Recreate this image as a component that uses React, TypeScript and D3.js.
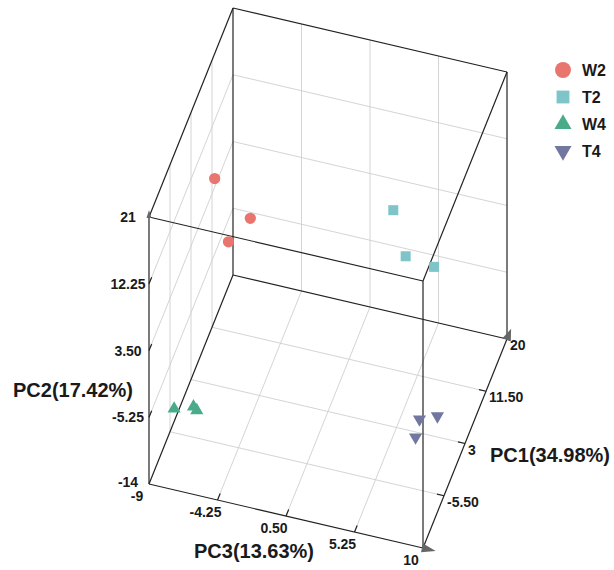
import React from "react";
import * as d3 from "d3";

// groups + colours
const groups = ["W2", "T2", "W4", "T4"];
const groupColors = ["#e8756e", "#7ec4c8", "#4aab8b", "#7277a0"];

// sample scores
const sampleGroup = ["W2", "W2", "W2", "T2", "T2", "T2", "W4", "W4", "W4", "T4", "T4", "T4"];
const pc1 = [5, 6, 3, 9, 7, 8, -5, -3, -4, -2, 0, -3];
const pc2 = [11.3, 6.3, 5.2, 9.1, 5.2, 3.8, -11.3, -12.2, -11.7, -7.8, -8.6, -9.4];
const pc3 = [-7.7, -5.4, -6.4, 4.0, 5.2, 7.0, -8.8, -7.8, -7.4, 7.7, 8.6, 7.6];

// axis ticks
const pc1Ticks = [-14, -5.5, 3, 11.5, 20];
const pc1Labels = ["", "-5.50", "3", "11.50", "20"];
const pc2Ticks = [-14, -5.25, 3.5, 12.25, 21];
const pc2Labels = ["-14", "-5.25", "3.50", "12.25", "21"];
const pc3Ticks = [-9, -4.25, 0.5, 5.25, 10];
const pc3Labels = ["-9", "-4.25", "0.50", "5.25", "10"];

const axisTitles = ["PC1(34.98%)", "PC2(17.42%)", "PC3(13.63%)"];

const font = "'Liberation Sans', Arial, sans-serif";

// projection of the box: origin at front-bottom-left corner
const origin = [149, 484];
const v1 = [84, -209]; // pc1 direction (front -> back)
const v2 = [0, -267]; // pc2 direction (up)
const v3 = [274, 64]; // pc3 direction (left -> right)

const s1 = d3.scaleLinear().domain([-14, 20]).range([0, 1]);
const s2 = d3.scaleLinear().domain([-14, 21]).range([0, 1]);
const s3 = d3.scaleLinear().domain([-9, 10]).range([0, 1]);

function proj(a: number, b: number, c: number): [number, number] {
  const f1 = s1(a), f2 = s2(b), f3 = s3(c);
  return [
    origin[0] + f1 * v1[0] + f2 * v2[0] + f3 * v3[0],
    origin[1] + f1 * v1[1] + f2 * v2[1] + f3 * v3[1],
  ];
}

function arrow(p: [number, number], d: number[], len: number, half: number) {
  const n = Math.hypot(d[0], d[1]);
  const ux = d[0] / n, uy = d[1] / n;
  const tip = [p[0] + ux * len, p[1] + uy * len];
  const bx = p[0] - ux * 1, by = p[1] - uy * 1;
  return `M${tip[0]},${tip[1]}L${bx - uy * half},${by + ux * half}L${bx + uy * half},${by - ux * half}Z`;
}

export default function App() {
  const [lo1, hi1] = s1.domain();
  const [lo2, hi2] = s2.domain();
  const [lo3, hi3] = s3.domain();

  // grid lines on the three back planes
  const grid: [number, number][][] = [];
  pc1Ticks.slice(1, -1).forEach(t => {
    grid.push([proj(t, lo2, lo3), proj(t, hi2, lo3)]); // left wall
    grid.push([proj(t, lo2, lo3), proj(t, lo2, hi3)]); // floor
  });
  pc2Ticks.slice(1, -1).forEach(t => {
    grid.push([proj(lo1, t, lo3), proj(hi1, t, lo3)]); // left wall
    grid.push([proj(hi1, t, lo3), proj(hi1, t, hi3)]); // back wall
  });
  pc3Ticks.slice(1, -1).forEach(t => {
    grid.push([proj(hi1, lo2, t), proj(hi1, hi2, t)]); // back wall
    grid.push([proj(lo1, lo2, t), proj(hi1, lo2, t)]); // floor
  });

  // 12 box edges
  const edges: [number, number][][] = [];
  const c1 = [lo1, hi1], c2 = [lo2, hi2], c3 = [lo3, hi3];
  c2.forEach(b => c3.forEach(c => edges.push([proj(lo1, b, c), proj(hi1, b, c)])));
  c1.forEach(a => c3.forEach(c => edges.push([proj(a, lo2, c), proj(a, hi2, c)])));
  c1.forEach(a => c2.forEach(b => edges.push([proj(a, b, lo3), proj(a, b, hi3)])));

  // short inward tick marks
  const ticks: [number, number][][] = [];
  pc1Ticks.slice(1, -1).forEach(t => {
    const p = proj(t, lo2, hi3);
    ticks.push([p, [p[0] - 7, p[1] - 1.6]]);
  });
  pc3Ticks.slice(1, -1).forEach(t => {
    const p = proj(lo1, lo2, t);
    ticks.push([p, [p[0] + 2.7, p[1] - 6.6]]);
  });
  pc2Ticks.slice(1, -1).forEach(t => {
    const p = proj(lo1, t, lo3);
    ticks.push([p, [p[0] + 2.7, p[1] - 6.6]]);
  });

  const symbolTypes = [d3.symbolCircle, d3.symbolSquare, d3.symbolTriangle, d3.symbolTriangle];
  const plotSizes = [100, 100, 75, 75];
  const legendSizes = [200, 165, 125, 125];
  const symbolPath = (gi: number, sizes: number[]) =>
    d3.symbol().type(symbolTypes[gi]).size(sizes[gi])() as string;
  const rot = (gi: number) => (gi === 3 ? 180 : 0);

  const line = (l: [number, number][]) => `M${l[0][0]},${l[0][1]}L${l[1][0]},${l[1][1]}`;

  const F = proj(hi1, lo2, hi3);
  const Hc = proj(lo1, lo2, hi3);
  const C = proj(lo1, hi2, lo3);

  return (
    <svg width={614} height={570} style={{ position: "absolute", left: 0, top: 0, background: "#fff" }}>
      <g stroke="#cfcfcf" strokeWidth={0.9} fill="none">
        {grid.map((l, i) => <path key={i} d={line(l)} />)}
      </g>
      <g stroke="#222" strokeWidth={1.2} fill="none">
        {edges.map((l, i) => <path key={i} d={line(l)} />)}
        {ticks.map((l, i) => <path key={"t" + i} d={line(l)} />)}
      </g>
      <g fill="#666">
        <path d={arrow(F, v1, 11, 4.5)} />
        <path d={arrow(Hc, v3, 13, 4.5)} />
        <path d={arrow(C, v2, 7, 2.5)} />
      </g>
      {sampleGroup.map((g, i) => {
        const gi = groups.indexOf(g);
        const [px, py] = proj(pc1[i], pc2[i], pc3[i]);
        return (
          <path key={i} d={symbolPath(gi, plotSizes)} fill={groupColors[gi]}
            transform={`translate(${px},${py}) rotate(${rot(gi)})`} />
        );
      })}
      <g fontFamily={font} fontWeight="bold" fontSize={14} fill="#1a1a1a">
        {pc2Ticks.map((t, i) => {
          const p = proj(lo1, t, lo3);
          return <text key={"y" + i} x={128} y={p[1] - (i === 0 ? 2.5 : 0)} textAnchor="middle" dominantBaseline="central">{pc2Labels[i]}</text>;
        })}
        {pc3Ticks.map((t, i) => {
          const p = proj(lo1, lo2, t);
          return <text key={"z" + i} x={p[0] - 12} y={p[1] + 12} textAnchor="middle" dominantBaseline="central">{pc3Labels[i]}</text>;
        })}
        {pc1Ticks.map((t, i) => {
          const p = proj(t, lo2, hi3);
          return <text key={"x" + i} x={p[0] + 3} y={p[1] + 6} textAnchor="start" dominantBaseline="central">{pc1Labels[i]}</text>;
        })}
      </g>
      <g fontFamily={font} fontWeight="bold" fontSize={20} fill="#1a1a1a" dominantBaseline="central">
        <text x={550} y={455} textAnchor="middle">{axisTitles[0]}</text>
        <text x={73} y={390} textAnchor="middle">{axisTitles[1]}</text>
        <text x={254} y={551} textAnchor="middle">{axisTitles[2]}</text>
      </g>
      <g fontFamily={font} fontWeight="bold" fontSize={16} fill="#1a1a1a">
        {groups.map((g, gi) => {
          const y = 70 + gi * 27;
          return (
            <g key={g}>
              <path d={symbolPath(gi, legendSizes)} fill={groupColors[gi]}
                transform={`translate(563,${y}) rotate(${rot(gi)})`} />
              <text x={582} y={y} dominantBaseline="central">{g}</text>
            </g>
          );
        })}
      </g>
    </svg>
  );
}
